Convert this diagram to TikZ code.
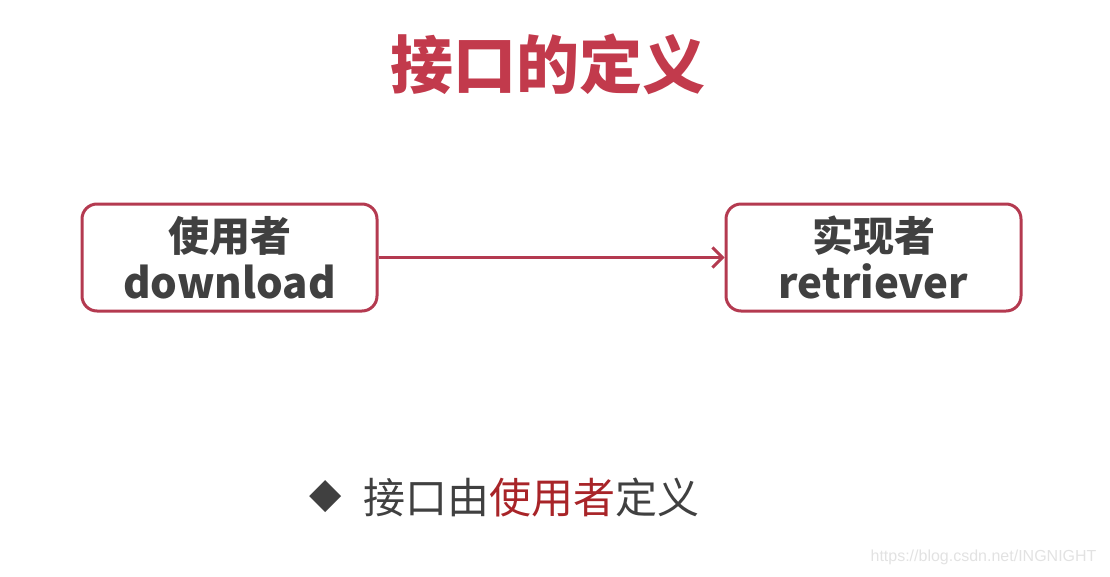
\documentclass[tikz,border=0pt]{standalone}
\usepackage{fontspec}
\setmainfont{Noto Sans CJK SC}
\newfontfamily\cjk{Noto Sans CJK SC}
\usetikzlibrary{arrows.meta}
\definecolor{titlered}{HTML}{C23A4C}
\definecolor{boxred}{HTML}{B43A50}
\definecolor{txtgray}{HTML}{404040}
\definecolor{emred}{HTML}{A82428}
\definecolor{wmgray}{HTML}{E2E2E2}
\tikzset{
  rolebox/.style={draw=boxred, line width=3pt, rounded corners=15pt, fill=white,
    minimum width=295pt, minimum height=107pt, align=center, text=txtgray,
    font=\cjk\bfseries\fontsize{41}{48}\selectfont, inner sep=0pt},
  link/.style={draw=boxred, line width=3pt, -{Straight Barb[length=10pt,width=20pt,line width=3pt]}}
}
\newcommand{\latinbig}[1]{{\fontsize{42}{48}\selectfont #1}}
\begin{document}
\begin{tikzpicture}[x=1pt,y=-1pt]
\useasboundingbox (0,0) rectangle (1110,576);
\node[text=titlered, font=\cjk\bfseries\fontsize{63}{70}\selectfont] (title) at (548,64) {接口的定义};
\node[rolebox] (user) at (229.5,257.5) {使用者\\[-1pt]\latinbig{download}};
\node[rolebox] (impl) at (873.5,257.5) {实现者\\[-1pt]\latinbig{retriever}};
\draw[link] (user.east) -- (impl.west);
\node[text=txtgray, font=\fontsize{42}{48}\selectfont] (bullet) at (326,497) {\fontspec{DejaVu Sans}◆};
\node[anchor=west, text=txtgray, font=\cjk\fontsize{42}{50}\selectfont] (def) at (360,497) {接口由\textcolor{emred}{使用者}定义};
\node[anchor=east, text=wmgray, font=\fontspec{Liberation Sans}\fontsize{16}{18}\selectfont] (wm) at (1100,557) {https://blog.csdn.net/INGNIGHT};
\end{tikzpicture}
\end{document}
